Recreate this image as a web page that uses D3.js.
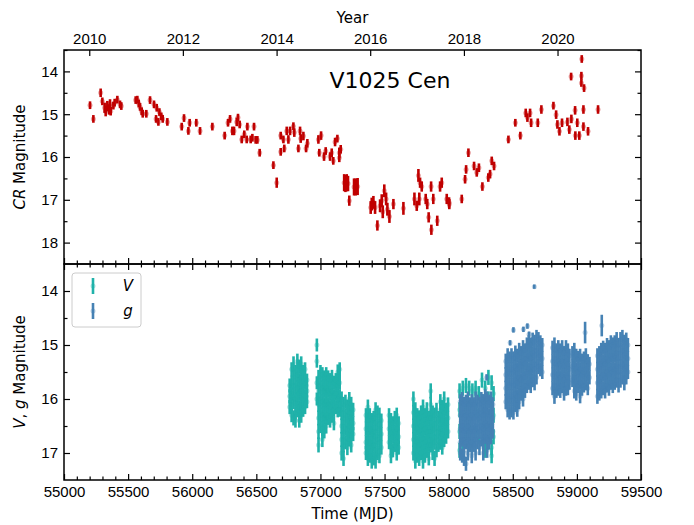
<!DOCTYPE html>
<html>
<head>
<meta charset="utf-8">
<script src="https://cdn.jsdelivr.net/npm/d3@7"></script>
<style>
  body { margin: 0; background: #fff; }
  svg { font-family: "DejaVu Sans", sans-serif; }
  .tick text { font-size: 15px; fill: #000; }
  .tick line { stroke: #000; stroke-width: 1.2; }
</style>
</head>
<body>
<div id="chart"></div>
<script>
// Year labels on the top axis (MJD of 1 January)
var yearLabels = ["2010", "2012", "2014", "2016", "2018", "2020"];
var yearMjd = [55197, 55927, 56658, 57388, 58119, 58849];

var xTicks = [55000, 55500, 56000, 56500, 57000, 57500, 58000, 58500, 59000, 59500];
var crTicks = [14, 15, 16, 17, 18];
var vgTicks = [14, 15, 16, 17];

// CR photometry: [MJD, mag, err]
var crData = [
  [55203,14.79,0.09],[55229,15.11,0.09],[55286,14.50,0.1],[55299,14.70,0.09],[55317,14.85,0.12],
  [55325,14.93,0.12],[55338,14.81,0.12],[55351,14.89,0.12],[55359,14.77,0.12],[55364,14.93,0.1],
  [55385,14.80,0.09],[55395,14.73,0.09],[55416,14.66,0.09],[55437,14.77,0.09],[55447,14.81,0.09],
  [55559,14.67,0.09],[55572,14.66,0.09],[55583,14.75,0.09],[55593,14.83,0.09],[55606,14.93,0.09],
  [55614,14.99,0.09],[55642,14.99,0.09],[55671,14.67,0.09],[55702,14.77,0.09],[55723,14.85,0.09],
  [55718,15.11,0.09],[55736,15.18,0.09],[55744,14.95,0.09],[55759,15.05,0.09],[55770,15.11,0.09],
  [55806,15.18,0.09],[55918,15.29,0.09],[55936,15.09,0.09],[55970,15.39,0.09],[55980,15.20,0.09],
  [56032,15.20,0.09],[56061,15.39,0.09],[56157,15.29,0.09],[56253,15.50,0.09],[56279,15.20,0.09],
  [56295,15.11,0.09],[56313,15.39,0.1],[56326,15.39,0.1],[56347,15.18,0.1],[56357,15.08,0.09],
  [56370,15.24,0.09],[56386,15.59,0.09],[56406,15.47,0.09],[56425,15.59,0.09],[56430,15.29,0.09],
  [56456,15.59,0.09],[56469,15.55,0.09],[56482,15.29,0.09],[56495,15.60,0.09],[56508,15.60,0.09],
  [56526,15.90,0.09],[56633,16.19,0.09],[56659,16.60,0.12],[56690,15.50,0.09],[56711,15.59,0.09],
  [56690,15.88,0.09],[56718,15.80,0.09],[56737,15.39,0.1],[56750,15.59,0.1],[56763,15.39,0.1],
  [56789,15.28,0.09],[56796,15.43,0.1],[56828,15.80,0.09],[56841,15.39,0.1],[56846,15.57,0.1],
  [56867,15.51,0.1],[56888,15.80,0.09],[56898,15.68,0.1],[56984,15.59,0.1],[57005,15.50,0.1],
  [56991,15.90,0.09],[57028,15.99,0.1],[57041,15.86,0.09],[57075,15.99,0.1],[57088,15.90,0.1],
  [57100,16.09,0.09],[57114,15.65,0.1],[57132,15.57,0.09],[57147,15.90,0.12],[57158,15.82,0.1],
  [57147,16.02,0.1],[57185,16.60,0.2],[57195,16.62,0.2],[57205,16.60,0.2],[57215,16.62,0.18],
  [57225,17.02,0.12],[57262,16.70,0.2],[57275,16.70,0.2],[57290,16.69,0.2],
  [57392,17.18,0.15],[57400,17.10,0.15],[57413,17.06,0.15],[57426,17.18,0.15],[57444,17.60,0.12],
  [57465,17.14,0.15],[57478,17.02,0.15],[57486,17.28,0.15],[57498,16.79,0.15],[57512,16.98,0.15],
  [57522,17.22,0.15],[57538,17.39,0.15],[57569,17.10,0.12],[57647,17.20,0.15],
  [57733,16.98,0.15],[57751,17.14,0.12],[57764,16.43,0.15],[57777,16.60,0.12],[57790,16.69,0.12],
  [57771,16.98,0.15],[57821,16.98,0.12],[57833,17.10,0.12],[57844,17.41,0.12],[57863,16.69,0.12],
  [57865,17.70,0.12],[57880,16.98,0.12],[57911,17.49,0.12],[57933,16.69,0.12],[57946,16.60,0.12],
  [57985,16.98,0.12],[58003,17.06,0.12],[58005,17.10,0.12],
  [58102,16.98,0.1],[58128,16.52,0.1],[58136,16.29,0.1],[58154,15.90,0.1],[58198,16.21,0.1],
  [58219,16.36,0.1],[58236,16.25,0.1],[58263,16.69,0.1],[58309,16.48,0.1],[58323,16.40,0.1],
  [58336,16.09,0.1],[58354,16.21,0.1],
  [58466,15.59,0.09],[58520,15.20,0.09],[58559,15.50,0.09],[58601,14.97,0.1],[58614,15.08,0.1],
  [58635,14.97,0.1],[58643,15.20,0.1],[58695,15.20,0.1],[58723,14.89,0.1],[58817,14.80,0.09],
  [58838,15.01,0.1],[58848,15.24,0.1],[58864,15.40,0.1],[58884,15.20,0.1],[58926,15.18,0.1],
  [58941,15.36,0.1],[58955,14.12,0.09],[58957,15.11,0.1],[58986,14.91,0.1],[58988,15.50,0.1],
  [59003,15.20,0.1],[59019,15.50,0.1],[59038,13.71,0.09],[59035,14.10,0.09],[59035,14.27,0.09],
  [59056,14.39,0.09],[59051,14.89,0.1],[59051,15.29,0.1],[59087,15.40,0.1],[59165,14.89,0.1]
];

// V photometry, grouped by night column: [MJD, err, mag, mag, ...]
var vCols = [
  [56760,0.13,15.75,15.95,16.15],
  [56775,0.13,15.45,15.7,15.9,16.1,16.3],
  [56790,0.14,15.35,15.6,15.85,16.05,16.35],
  [56805,0.13,15.5,15.75,16.0,16.25,16.4],
  [56820,0.14,15.3,15.55,15.8,16.0,16.2],
  [56835,0.13,15.4,15.65,15.9,16.15,16.4],
  [56850,0.14,15.35,15.6,15.85,16.1,16.3],
  [56865,0.13,15.5,15.75,16.0,16.2],
  [56880,0.13,15.45,15.7,15.95,16.15],
  [56895,0.12,15.65,15.85,16.05],
  [56972,0.12,15.0,15.3,15.7,16.0],
  [56985,0.14,15.6,15.85,16.1,16.35,16.6,16.85],
  [57000,0.13,15.5,15.75,16.0,16.25,16.5],
  [57015,0.14,15.55,15.8,16.05,16.3,16.55,16.75],
  [57030,0.13,15.6,15.85,16.1,16.35,16.6],
  [57045,0.14,15.55,15.8,16.05,16.3,16.5],
  [57060,0.13,15.6,15.85,16.1,16.35],
  [57075,0.13,15.65,15.9,16.15,16.4],
  [57090,0.14,15.6,15.85,16.05,16.3],
  [57105,0.13,15.7,15.95,16.2,16.45],
  [57120,0.13,15.65,15.9,16.15],
  [57135,0.14,15.5,15.75,16.0,16.2],
  [57150,0.13,15.45,15.7,15.95,16.2],
  [57165,0.14,16.0,16.25,16.5,16.75,17.0],
  [57180,0.14,16.1,16.35,16.6,16.85,17.1],
  [57195,0.13,16.05,16.3,16.55,16.8],
  [57210,0.14,16.15,16.4,16.65,16.9],
  [57225,0.13,16.0,16.25,16.5,16.75],
  [57240,0.14,16.1,16.35,16.6,16.85],
  [57255,0.13,16.2,16.45,16.65],
  [57355,0.13,16.3,16.55,16.8,17.0],
  [57370,0.14,16.15,16.4,16.65,16.9,17.1],
  [57385,0.13,16.3,16.55,16.8,17.05],
  [57400,0.14,16.4,16.65,16.9,17.15],
  [57415,0.13,16.35,16.6,16.85,17.1],
  [57430,0.14,16.2,16.45,16.7,16.95,17.15],
  [57445,0.13,16.25,16.5,16.75,17.0],
  [57460,0.14,16.3,16.55,16.8,17.05],
  [57475,0.13,16.4,16.65,16.9],
  [57535,0.13,16.3,16.55,16.8],
  [57550,0.14,16.4,16.65,16.9,17.05],
  [57565,0.13,16.45,16.7,16.95],
  [57580,0.13,16.35,16.6,16.85],
  [57595,0.14,16.3,16.55,16.8,17.0],
  [57610,0.13,16.45,16.7,16.9],
  [57725,0.14,16.0,16.25,16.5,16.75,17.0],
  [57740,0.14,16.2,16.45,16.7,16.95,17.15],
  [57755,0.13,16.3,16.55,16.8,17.05],
  [57770,0.14,16.35,16.6,16.85,17.1],
  [57785,0.13,16.25,16.5,16.75,17.0],
  [57800,0.14,16.15,16.4,16.65,16.9,17.15],
  [57815,0.13,16.3,16.55,16.8,17.05],
  [57830,0.14,16.2,16.45,16.7,16.95],
  [57845,0.13,16.35,16.6,16.85,17.1],
  [57860,0.14,15.85,16.1,16.35,16.6,16.85],
  [57875,0.13,16.25,16.5,16.75,17.0],
  [57890,0.14,16.3,16.55,16.8,17.1],
  [57905,0.13,16.2,16.45,16.7,16.95],
  [57920,0.13,16.35,16.6,16.85],
  [57935,0.14,16.05,16.3,16.55,16.8],
  [57950,0.13,16.15,16.4,16.65,16.9],
  [57965,0.14,16.0,16.25,16.5,16.75],
  [57980,0.13,16.2,16.45,16.7],
  [57995,0.13,16.1,16.35,16.6],
  [58085,0.14,15.85,16.2,16.6,16.95],
  [58110,0.14,15.8,16.1,16.5,16.9],
  [58135,0.14,15.75,16.15,16.55],
  [58160,0.14,15.8,16.2,16.6],
  [58185,0.14,15.85,16.25,16.7],
  [58210,0.14,15.8,16.2,16.6],
  [58235,0.14,15.9,16.3,16.7],
  [58260,0.14,15.65,16.05,16.45],
  [58285,0.14,15.8,16.2,16.6,16.95],
  [58310,0.14,15.6,16.0,16.4,16.8],
  [58335,0.14,15.7,16.1,16.5,16.9,17.05],
  [58350,0.14,15.9,16.3,16.7]
];

// g photometry, grouped the same way
var gCols = [
  [58090,0.14,16.05,16.3,16.55,16.8,17.0],
  [58105,0.13,16.0,16.25,16.5,16.75,17.05],
  [58120,0.14,16.1,16.35,16.6,16.85,17.1],
  [58135,0.13,16.05,16.3,16.55,16.8,17.2],
  [58150,0.14,16.0,16.25,16.5,16.75,17.0],
  [58165,0.13,16.1,16.35,16.6,16.85],
  [58180,0.14,16.05,16.3,16.55,16.8,17.05],
  [58195,0.13,16.1,16.35,16.6,16.85],
  [58210,0.14,16.0,16.25,16.5,16.75,17.0],
  [58225,0.13,16.05,16.3,16.55,16.8],
  [58240,0.14,16.1,16.35,16.6,16.9],
  [58255,0.13,16.0,16.25,16.5,16.75],
  [58270,0.14,16.05,16.3,16.55,16.8,17.0],
  [58285,0.13,15.95,16.2,16.45,16.7],
  [58300,0.14,16.0,16.25,16.5,16.75,16.95],
  [58315,0.13,16.05,16.3,16.55,16.8],
  [58330,0.14,16.0,16.25,16.5,16.7],
  [58345,0.13,16.1,16.35,16.6],
  [58445,0.14,15.3,15.55,15.8,16.05],
  [58460,0.14,15.2,15.45,15.7,15.95,16.2],
  [58475,0.13,15.25,15.5,15.75,16.0,16.25],
  [58490,0.14,15.2,15.45,15.7,15.95,16.2],
  [58505,0.13,15.25,15.5,15.75,16.0,16.25],
  [58520,0.14,15.15,15.4,15.65,15.9,16.1],
  [58535,0.13,15.2,15.45,15.7,15.95,16.2],
  [58550,0.14,15.1,15.35,15.6,15.85,16.05],
  [58565,0.13,15.15,15.4,15.65,15.9],
  [58580,0.14,15.05,15.3,15.55,15.8,16.0],
  [58595,0.13,15.1,15.35,15.6,15.85],
  [58610,0.14,15.0,15.25,15.5,15.75],
  [58625,0.13,14.95,15.2,15.45,15.7],
  [58640,0.14,15.0,15.25,15.5,15.75],
  [58655,0.13,14.9,15.15,15.4,15.65],
  [58670,0.14,14.95,15.2,15.45,15.7],
  [58685,0.13,14.85,15.1,15.35,15.6],
  [58700,0.14,14.9,15.15,15.4],
  [58715,0.13,14.95,15.2,15.45],
  [58730,0.13,15.0,15.25,15.5],
  [58810,0.13,15.05,15.3,15.55,15.8],
  [58825,0.14,15.0,15.25,15.5,15.75,15.95],
  [58840,0.13,15.1,15.35,15.6,15.85],
  [58855,0.14,15.05,15.3,15.55,15.8],
  [58870,0.13,15.1,15.35,15.6,15.85],
  [58885,0.14,15.05,15.3,15.55,15.75],
  [58900,0.13,15.15,15.4,15.65,15.9],
  [58915,0.14,15.05,15.3,15.55,15.8],
  [58930,0.13,15.1,15.35,15.6,15.8],
  [58942,0.13,15.2,15.45,15.7],
  [58965,0.13,15.15,15.4,15.65],
  [58980,0.14,15.1,15.35,15.6,15.85],
  [58995,0.13,15.2,15.45,15.7,15.9],
  [59010,0.14,15.25,15.5,15.75],
  [59025,0.13,15.2,15.45,15.7,15.95],
  [59040,0.14,15.3,15.55,15.8],
  [59055,0.13,15.25,15.5,15.75],
  [59070,0.14,15.2,15.45,15.7],
  [59085,0.13,15.3,15.55,15.8],
  [59098,0.13,15.35,15.6],
  [59160,0.14,15.2,15.45,15.7,15.95],
  [59175,0.13,15.15,15.4,15.65,15.9],
  [59190,0.14,15.1,15.35,15.6,15.85],
  [59205,0.13,15.05,15.3,15.55,15.8],
  [59220,0.14,15.1,15.35,15.6,15.85],
  [59235,0.13,15.0,15.25,15.5,15.75],
  [59250,0.14,15.05,15.3,15.55,15.8],
  [59265,0.13,14.95,15.2,15.45,15.7],
  [59280,0.14,15.0,15.25,15.5,15.75],
  [59295,0.13,14.95,15.2,15.45,15.7],
  [59310,0.14,14.9,15.15,15.4,15.65],
  [59325,0.13,15.0,15.25,15.5,15.75],
  [59340,0.14,14.9,15.15,15.4,15.65],
  [59355,0.13,14.85,15.1,15.35,15.6],
  [59370,0.14,14.95,15.2,15.45,15.7],
  [59385,0.13,14.9,15.15,15.4,15.6],
  [59398,0.13,15.0,15.25,15.5]
];

// isolated g points: [MJD, mag, err]
var gSingles = [
  [58296,15.60,0.06],[58479,14.96,0.05],[58505,14.72,0.05],[58583,14.71,0.05],
  [58614,14.65,0.05],[58627,14.80,0.05],[58668,13.92,0.04],[59064,14.77,0.2],[59194,14.64,0.2]
];

var crColor = "#c00000";
var vColor = "#20b2aa";
var gColor = "#4682b4";

function expand(cols) {
  var out = [];
  cols.forEach(function(c) {
    c.slice(2).forEach(function(m) { out.push([c[0], m, c[1]]); });
  });
  return out;
}
var vData = expand(vCols);
var gData = expand(gCols).concat(gSingles);

var svgWidth = 694, svgHeight = 525;
var left = 64, right = 641;
var top1 = 50, mid = 264, bot2 = 480;

var svg = d3.select("#chart").append("svg")
  .attr("width", svgWidth)
  .attr("height", svgHeight);

var x = d3.scaleLinear().domain([55000, 59500]).range([left, right]);
var yCR = d3.scaleLinear().domain([13.5, 18.5]).range([top1, mid]);
var yVG = d3.scaleLinear().domain([13.5, 17.5]).range([mid, bot2]);

var xMinor = d3.range(55000, 59501, 100).filter(function(d) { return d % 500 !== 0; });
var crMinor = [13.5, 14.5, 15.5, 16.5, 17.5];
var vgMinor = [14.5, 15.5, 16.5];

function addAxis(axis, tx, ty, hideLabels) {
  var g = svg.append("g").attr("transform", "translate(" + tx + "," + ty + ")").call(axis);
  g.select(".domain").remove();
  if (hideLabels) g.selectAll("text").remove();
  return g;
}

// error bar marks
function drawPoints(data, yScale, color, clipId) {
  var g = svg.append("g").attr("clip-path", "url(#" + clipId + ")");
  g.selectAll("line").data(data).enter().append("line")
    .attr("x1", d => x(d[0])).attr("x2", d => x(d[0]))
    .attr("y1", d => yScale(d[1] - d[2])).attr("y2", d => yScale(d[1] + d[2]))
    .attr("stroke", color).attr("stroke-width", 2.6);
  g.selectAll("circle").data(data).enter().append("circle")
    .attr("cx", d => x(d[0])).attr("cy", d => yScale(d[1]))
    .attr("r", 2.5).attr("fill", color).attr("fill-opacity", 0.35);
}

var defs = svg.append("defs");
defs.append("clipPath").attr("id", "clipTop").append("rect")
  .attr("x", left).attr("y", top1).attr("width", right - left).attr("height", mid - top1);
defs.append("clipPath").attr("id", "clipBot").append("rect")
  .attr("x", left).attr("y", mid).attr("width", right - left).attr("height", bot2 - mid);

drawPoints(crData, yCR, crColor, "clipTop");
drawPoints(vData, yVG, vColor, "clipBot");
drawPoints(gData, yVG, gColor, "clipBot");

var intFmt = d3.format("d");

// ---- upper panel axes
addAxis(d3.axisTop(x).tickValues(yearMjd).tickSize(-6).tickPadding(6)
  .tickFormat((d, i) => yearLabels[i]), 0, top1);
addAxis(d3.axisBottom(x).tickValues(xTicks).tickSize(-6), 0, mid, true);
addAxis(d3.axisBottom(x).tickValues(xMinor).tickSize(-3.5), 0, mid, true);
addAxis(d3.axisLeft(yCR).tickValues(crTicks).tickSize(-6).tickPadding(6).tickFormat(intFmt), left, 0);
addAxis(d3.axisLeft(yCR).tickValues(crMinor).tickSize(-3.5), left, 0, true);
addAxis(d3.axisRight(yCR).tickValues(crTicks).tickSize(-6), right, 0, true);
addAxis(d3.axisRight(yCR).tickValues(crMinor).tickSize(-3.5), right, 0, true);

// ---- lower panel axes
addAxis(d3.axisTop(x).tickValues(xTicks).tickSize(-6), 0, mid, true);
addAxis(d3.axisTop(x).tickValues(xMinor).tickSize(-3.5), 0, mid, true);
addAxis(d3.axisBottom(x).tickValues(xTicks).tickSize(-6).tickPadding(6)
  .tickFormat(intFmt), 0, bot2);
addAxis(d3.axisBottom(x).tickValues(xMinor).tickSize(-3.5), 0, bot2, true);
addAxis(d3.axisLeft(yVG).tickValues(vgTicks).tickSize(-6).tickPadding(6).tickFormat(intFmt), left, 0);
addAxis(d3.axisLeft(yVG).tickValues(vgMinor).tickSize(-3.5), left, 0, true);
addAxis(d3.axisRight(yVG).tickValues(vgTicks).tickSize(-6), right, 0, true);
addAxis(d3.axisRight(yVG).tickValues(vgMinor).tickSize(-3.5), right, 0, true);

// frames
[[top1, mid], [mid, bot2]].forEach(function(p) {
  svg.append("rect").attr("x", left).attr("y", p[0])
    .attr("width", right - left).attr("height", p[1] - p[0])
    .attr("fill", "none").attr("stroke", "#000").attr("stroke-width", 1.5);
});

// titles
svg.append("text").attr("x", (left + right) / 2).attr("y", 23)
  .attr("text-anchor", "middle").style("font-size", "15px").text("Year");
svg.append("text").attr("x", (left + right) / 2).attr("y", 519)
  .attr("text-anchor", "middle").style("font-size", "15px").text("Time (MJD)");
svg.append("text").attr("x", 390).attr("y", 88)
  .attr("text-anchor", "middle").style("font-size", "22px").text("V1025 Cen");

var yl1 = svg.append("text")
  .attr("transform", "translate(25," + ((top1 + mid) / 2) + ") rotate(-90)")
  .attr("text-anchor", "middle").style("font-size", "15px");
yl1.append("tspan").style("font-style", "italic").text("CR");
yl1.append("tspan").text(" Magnitude");

var yl2 = svg.append("text")
  .attr("transform", "translate(25," + ((mid + bot2) / 2) + ") rotate(-90)")
  .attr("text-anchor", "middle").style("font-size", "15px");
yl2.append("tspan").style("font-style", "italic").text("V");
yl2.append("tspan").text(", ");
yl2.append("tspan").style("font-style", "italic").text("g");
yl2.append("tspan").text(" Magnitude");

// legend
var legend = svg.append("g");
legend.append("rect").attr("x", 72).attr("y", 273).attr("width", 69).attr("height", 54)
  .attr("rx", 3).attr("fill", "#fff").attr("fill-opacity", 0.8)
  .attr("stroke", "#cccccc").attr("stroke-width", 1);
[["V", vColor, 286], ["g", gColor, 311]].forEach(function(e) {
  legend.append("line").attr("x1", 93).attr("x2", 93)
    .attr("y1", e[2] - 8).attr("y2", e[2] + 8)
    .attr("stroke", e[1]).attr("stroke-width", 2.6);
  legend.append("circle").attr("cx", 93).attr("cy", e[2]).attr("r", 2.5)
    .attr("fill", e[1]).attr("fill-opacity", 0.35);
  legend.append("text").attr("x", 128).attr("y", e[2] + 5)
    .attr("text-anchor", "middle").style("font-size", "15px")
    .style("font-style", "italic").text(e[0]);
});
</script>
</body>
</html>
